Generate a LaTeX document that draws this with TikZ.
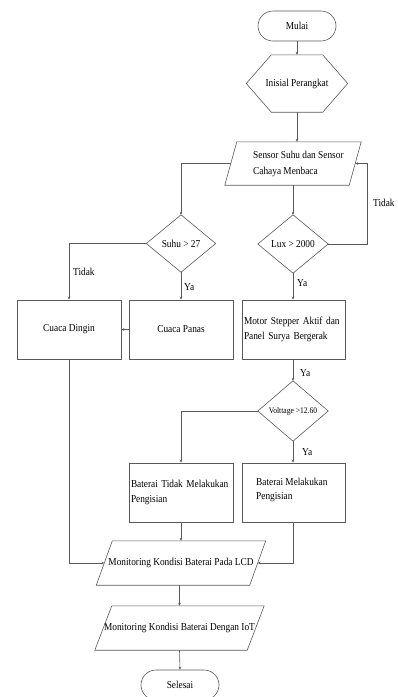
\documentclass[tikz,border=0pt]{standalone}
\usepackage{fontspec}
\setmainfont{Liberation Serif}[FakeStretch=0.88]
\usetikzlibrary{arrows.meta,shapes.misc}
\tikzset{
  ln/.style={draw=black!65, line width=0.6pt},
  arr/.style={ln, -{Stealth[length=3pt,width=2.6pt]}},
  txt/.style={font=\fontsize{10.6}{14.5}\selectfont, text=black},
  box/.style={draw=black!65, line width=0.6pt, rectangle, minimum width=104pt, minimum height=59pt, inner sep=0pt, txt},
  ghost/.style={rectangle, inner sep=0pt, txt},
  term/.style={draw=black!65, line width=0.6pt, rounded rectangle, minimum width=78pt, minimum height=30pt, inner sep=0pt, txt},
  lab/.style={txt, inner sep=0pt, anchor=west},
}
\begin{document}
\begin{tikzpicture}[x=1pt,y=-1pt]
\useasboundingbox (0,0) rectangle (397,697);
% terminals
\node[term] (mulai) at (297,26) {Mulai};
\node[term] (selesai) at (180,685) {Selesai};
% hexagon
\node[ghost, minimum width=101pt, minimum height=57pt] (init) at (297,83.5) {Inisial Perangkat};
\draw[ln] (init.west) -- ([xshift=25pt]init.north west) -- ([xshift=-25pt]init.north east) -- (init.east) -- ([xshift=-25pt]init.south east) -- ([xshift=25pt]init.south west) -- cycle;
% sensor parallelogram
\node[ghost, minimum width=124pt, minimum height=43pt] (sensor) at (293,163.5) {};
\draw[ln] ([xshift=6pt]sensor.north west) -- ([xshift=6pt]sensor.north east) -- ([xshift=-6pt]sensor.south east) -- ([xshift=-6pt]sensor.south west) -- cycle;
\node[txt, align=left, anchor=west, inner sep=0pt] (sensortxt) at (253,164) {Sensor Suhu dan Sensor\\[1.5pt]Cahaya Menbaca};
% diamonds
\node[ghost, minimum width=69pt, minimum height=57pt] (suhu) at (181,243.5) {Suhu > 27};
\draw[ln] (suhu.north) -- (suhu.east) -- (suhu.south) -- (suhu.west) -- cycle;
\node[ghost, minimum width=70pt, minimum height=58pt] (lux) at (293,244) {Lux > 2000};
\draw[ln] (lux.north) -- (lux.east) -- (lux.south) -- (lux.west) -- cycle;
\node[ghost, minimum width=70pt, minimum height=60pt, font=\fontsize{8.6}{10}\selectfont] (volt) at (293,411) {Volttage >12.60};
\draw[ln] (volt.north) -- (volt.east) -- (volt.south) -- (volt.west) -- cycle;
% boxes
\node[box] (dingin) at (69,329.5) {Cuaca Dingin};
\node[box] (panas) at (181,329.5) {Cuaca Panas};
\node[box, minimum width=103pt, align=left, text width=99pt] (motor) at (293.5,329.5) {Motor Stepper Aktif dan\\Panel Surya Bergerak};
\node[box, align=left, text width=100pt] (tidakisi) at (181,492.5) {Baterai Tidak Melakukan\\Pengisian};
\node[box, minimum width=103pt] (isi) at (293.5,492.5) {};
\node[txt, align=left, anchor=west, inner sep=0pt] (isitxt) at (256,490) {Baterai Melakukan\\Pengisian};
% LCD / IoT parallelograms
\node[ghost, minimum width=153pt, minimum height=44pt] (lcd) at (181,563) {Monitoring Kondisi Baterai Pada LCD};
\draw[ln] ([xshift=8pt]lcd.north west) -- ([xshift=8pt]lcd.north east) -- ([xshift=-8pt]lcd.south east) -- ([xshift=-8pt]lcd.south west) -- cycle;
\node[ghost, minimum width=152pt, minimum height=44pt] (iot) at (179.5,628) {Monitoring Kondisi Baterai Dengan IoT};
\draw[ln] ([xshift=8.5pt]iot.north west) -- ([xshift=8.5pt]iot.north east) -- ([xshift=-8.5pt]iot.south east) -- ([xshift=-8.5pt]iot.south west) -- cycle;
% connectors
\coordinate (loopc) at (367,244);
\draw[arr] (mulai.south) -- (init.north);
\draw[arr] (init.south) -- (init.south |- sensor.north);
\draw[arr] (sensor.west) -| (suhu.north);
\draw[arr] (sensor.south -| lux.north) -- (lux.north);
\draw[arr] (lux.east) -- (loopc) |- (sensor.east);
\draw[arr] (suhu.west) -| (dingin.north);
\draw[arr] (suhu.south) -- (panas.north);
\draw[arr] (panas.west) -- (dingin.east);
\draw[arr] (lux.south) -- (lux.south |- motor.north);
\draw[arr] (motor.south -| volt.north) -- (volt.north);
\draw[arr] (volt.west) -| (tidakisi.north);
\draw[arr] (volt.south) -- (volt.south |- isi.north);
\draw[arr] (dingin.south) |- (lcd.west);
\draw[arr] (tidakisi.south) -- (tidakisi.south |- lcd.north);
\draw[arr] (isi.south -| volt.south) |- (lcd.east);
\draw[arr] (lcd.south -| iot.north) -- (iot.north);
\draw[arr] (iot.south) -- (selesai.north);
% labels
\node[lab] (l1) at (373,203) {Tidak};
\node[lab] (l2) at (73,272) {Tidak};
\node[lab] (l3) at (184,287) {Ya};
\node[lab] (l4) at (297,283) {Ya};
\node[lab] (l5) at (300,373) {Ya};
\node[lab] (l6) at (302,452) {Ya};
\end{tikzpicture}
\end{document}
